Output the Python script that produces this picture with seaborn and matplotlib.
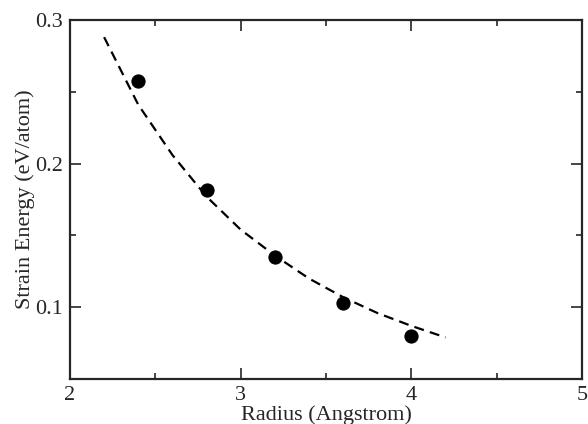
import numpy as np
import pandas as pd
import matplotlib
matplotlib.use('Agg')
import matplotlib.pyplot as plt
import seaborn as sns
from matplotlib.ticker import MultipleLocator

# Data points
radius = [2.4, 2.8, 3.2, 3.6, 4.0]
strain = [0.2575, 0.1815, 0.135, 0.103, 0.080]

# Dashed fit curve, sampled from the figure
fit_r = [2.2, 2.4, 2.6, 2.8, 3.0, 3.2, 3.4, 3.6, 3.8, 4.0, 4.2]
fit_e = [0.288, 0.241, 0.206, 0.177, 0.154, 0.136, 0.120, 0.107, 0.096, 0.087, 0.079]

x_ticks = [2, 3, 4, 5]
y_ticks = [0.1, 0.2, 0.3]

pts = pd.DataFrame({'Radius': radius, 'Energy': strain})
fit = pd.DataFrame({'Radius': fit_r, 'Energy': fit_e})

sns.set_style('ticks')
plt.rcParams['font.family'] = ['Liberation Serif', 'DejaVu Serif']

fig = plt.figure(figsize=(5.88, 4.24), dpi=100)
ax = fig.add_axes([0.119, 0.106, 0.871, 0.847])

sns.lineplot(data=fit, x='Radius', y='Energy', ax=ax, color='black',
             linewidth=1.6, linestyle=(0, (4.5, 2.8)))
sns.scatterplot(data=pts, x='Radius', y='Energy', ax=ax, color='black',
                s=90, edgecolor='black', zorder=3)

ax.set_xlim(2, 5)
ax.set_ylim(0.05, 0.3)
ax.set_xticks(x_ticks)
ax.set_yticks(y_ticks)
ax.set_yticklabels(['0.1', '0.2', '0.3'])
ax.xaxis.set_minor_locator(MultipleLocator(0.5))
ax.yaxis.set_minor_locator(MultipleLocator(0.05))

ax.tick_params(which='both', direction='in', top=True, right=True, width=1.2,
               labelsize=16, pad=5)
ax.tick_params(which='major', length=8)
ax.tick_params(which='minor', length=4)
for s in ax.spines.values():
    s.set_linewidth(1.6)

ax.set_xlabel('Radius (Angstrom)', fontsize=16, labelpad=0)
ax.set_ylabel('Strain Energy (eV/atom)', fontsize=16, labelpad=0)

fig.savefig('out.png', dpi=100)
